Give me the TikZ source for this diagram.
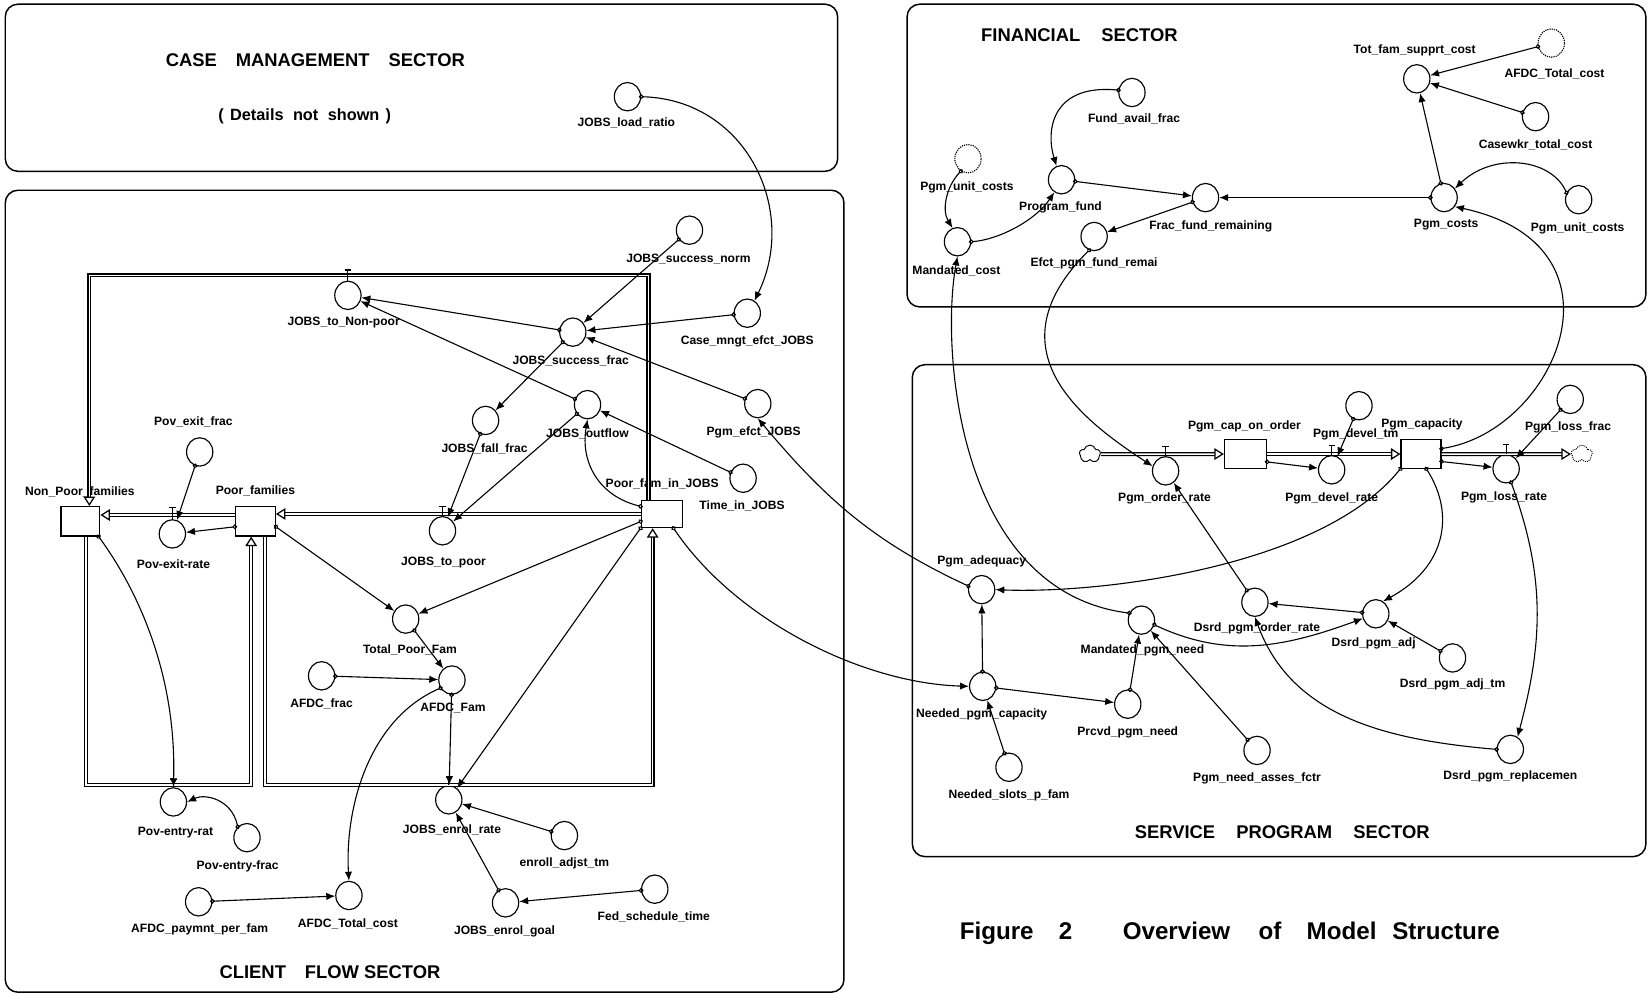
\documentclass[tikz,border=0pt]{standalone}
\usepackage{fontspec}
\setmainfont{Liberation Sans}
\usetikzlibrary{arrows.meta,shapes.geometric,shapes.symbols}
\begin{document}
\begin{tikzpicture}[x=1pt,y=-1pt,
  aux/.style={ellipse, draw, line width=1.1pt, minimum width=25pt, minimum height=27pt, inner sep=0pt},
  ghost/.style={aux, densely dotted},
  stock/.style={rectangle, draw, line width=1.1pt, minimum width=38pt, minimum height=27pt, inner sep=0pt},
  lab/.style={font=\bfseries\fontsize{11.5}{13}\selectfont, inner sep=0pt},
  ttl/.style={font=\bfseries\fontsize{17.5}{20}\selectfont, inner sep=0pt},
  conn/.style={line width=1.05pt, {Circle[open,length=4.5pt,width=4.5pt]}-{Latex[length=8.5pt,width=7pt]}, shorten <=-2.2pt},
  sector/.style={draw, line width=1.4pt, rounded corners=12pt},
  flow/.style={double, double distance=1.5pt, line width=1.2pt},
  flowtip/.style={flow, -{Triangle[open,length=9pt,width=11pt]}},
  valve/.style={line width=1.1pt},
  cloudy/.style={cloud, cloud puffs=5, draw, line width=0.9pt, minimum width=20pt, minimum height=17pt, inner sep=0pt}
]
\useasboundingbox (0,0) rectangle (1568,946);

% ---------------- sector boxes ----------------
\draw[sector] (5,4) rectangle (797,163);
\draw[sector] (5,181) rectangle (803,944);
\draw[sector] (863,4) rectangle (1566,292);
\draw[sector] (868,347) rectangle (1566,815);

% ---------------- titles ----------------
\node[ttl] (t-case) at (300,57) {CASE\hspace{18pt}MANAGEMENT\hspace{18pt}SECTOR};
\node[font=\bfseries\fontsize{15.5}{18}\selectfont, inner sep=0pt] (t-det) at (290,111) {(\hspace{6pt}Details\hspace{9pt}not\hspace{9pt}shown\hspace{6pt})};
\node[ttl] (t-fin) at (1027,33) {FINANCIAL\hspace{20pt}SECTOR};
\node[ttl] (t-srv) at (1220,792) {SERVICE\hspace{20pt}PROGRAM\hspace{20pt}SECTOR};
\node[ttl] (t-cli) at (314,925) {CLIENT\hspace{18pt}FLOW SECTOR};
\node[font=\bfseries\fontsize{23}{27}\selectfont, inner sep=0pt, anchor=west] (t-fig) at (913,888) {Figure\hspace{24pt}2\hspace{48pt}Overview\hspace{27pt}of\hspace{24pt}Model\hspace{15pt}Structure};

% ---------------- case management ----------------
\node[aux] (jlr) at (597,92) {};
\node[lab] (jlr-l) at (596,117) {JOBS\_load\_ratio};

% ---------------- client flow: nodes ----------------
\node[aux] (jsn) at (656,219) {};   \node[lab] (jsn-l) at (655,246) {JOBS\_success\_norm};
\node[aux] (cme) at (711,298) {};   \node[lab] (cme-l) at (711,325) {Case\_mngt\_efct\_JOBS};
\node[aux] (jtn) at (331,281) {};   \node[lab] (jtn-l) at (327,307) {JOBS\_to\_Non-poor};
\node[aux] (jsf) at (545,316) {};   \node[lab] (jsf-l) at (543,343) {JOBS\_success\_frac};
\node[aux] (jff) at (462,400) {};   \node[lab] (jff-l) at (461,427) {JOBS\_fall\_frac};
\node[aux] (jof) at (559,385) {};   \node[lab] (jof-l) at (559,413) {JOBS\_outflow};
\node[aux] (pej) at (721,384) {};   \node[lab] (pej-l) at (717,411) {Pgm\_efct\_JOBS};
\node[aux] (tij) at (707,455) {};   \node[lab] (tij-l) at (706,481) {Time\_in\_JOBS};
\node[stock, minimum width=39pt, minimum height=26pt] (pfj) at (629.5,489) {};
\node[lab] (pfj-l) at (630,460) {Poor\_fam\_in\_JOBS};
\node[aux] (pef) at (190,430) {};   \node[lab] (pef-l) at (184,401) {Pov\_exit\_frac};
\node[stock, minimum width=37pt, minimum height=28pt] (npf) at (76.5,496) {};
\node[lab] (npf-l) at (76,468) {Non\_Poor\_families};
\node[stock, minimum width=38pt, minimum height=28pt] (pf) at (243,496) {};
\node[lab] (pf-l) at (243,467) {Poor\_families};
\node[aux] (per) at (164,508) {};   \node[lab] (per-l) at (165,537) {Pov-exit-rate};
\node[aux] (jtp) at (421,505) {};   \node[lab] (jtp-l) at (422,535) {JOBS\_to\_poor};
\node[aux] (tpf) at (386,589) {};   \node[lab] (tpf-l) at (390,618) {Total\_Poor\_Fam};
\node[aux] (afr) at (306,643) {};   \node[lab] (afr-l) at (306,670) {AFDC\_frac};
\node[aux] (afam) at (430,647) {};  \node[lab] (afam-l) at (431,674) {AFDC\_Fam};
\node[aux] (pentr) at (165,763) {}; \node[lab] (pentr-l) at (167,792) {Pov-entry-rat};
\node[aux] (penf) at (235,797) {};  \node[lab] (penf-l) at (226,824) {Pov-entry-frac};
\node[aux] (jer) at (427,761) {};   \node[lab] (jer-l) at (430,790) {JOBS\_enrol\_rate};
\node[aux] (eat) at (537,795) {};   \node[lab] (eat-l) at (537,821) {enroll\_adjst\_tm};
\node[aux] (fst) at (623,846) {};   \node[lab] (fst-l) at (622,872) {Fed\_schedule\_time};
\node[aux] (jeg) at (481,859) {};   \node[lab] (jeg-l) at (480,886) {JOBS\_enrol\_goal};
\node[aux] (apf) at (189,858) {};   \node[lab] (apf-l) at (190,884) {AFDC\_paymnt\_per\_fam};
\node[aux] (atc) at (332,852) {};   \node[lab] (atc-l) at (331,879) {AFDC\_Total\_cost};

% ---------------- client flow: pipes ----------------
\coordinate (c1) at (617,262);
\coordinate (c2) at (85,262);
\draw[flowtip] (c1 |- pfj.north) -- (c1) -- (c2) -- (c2 |- npf.north);
\draw[flowtip] (pfj.west) -- (pfj.west -| pf.east);
\draw[flowtip] ([yshift=6pt]pf.west) -- ([yshift=6pt]pf.west -| npf.east);
\coordinate (b1) at (82,747);
\coordinate (b2) at (239,747);
\draw[flowtip] (b1 |- npf.south) -- (b1) -- (b2) -- (b2 |- pf.south);
\coordinate (b3) at (252,747);
\coordinate (b4) at (621,747);
\draw[flowtip] (b3 |- pf.south) -- (b3) -- (b4) -- (b4 |- pfj.south);
% valves
\draw[valve] (jtn.north) -- ++(0,-10) ++(-3,0) -- ++(6,0);
\draw[valve] (jtp.north) -- ++(0,-9) ++(-3,0) -- ++(6,0);
\draw[valve] (per.north) -- ++(0,-11) ++(-3,0) -- ++(6,0);
\draw[valve] (pentr.north) -- ++(0,-7) ++(-3,0) -- ++(6,0);
\draw[valve] (jer.north) -- ++(0,-7) ++(-3,0) -- ++(6,0);

% ---------------- client flow: connectors ----------------
\draw[conn] (jlr.east) .. controls (710,95) and (760,200) .. (cme.60);
\draw[conn] (jsn) -- (jsf);
\draw[conn] (cme) -- (jsf);
\draw[conn] (jsf) -- (jtn);
\draw[conn] (jsf) -- (jff);
\draw[conn] (pej) -- (jsf);
\draw[conn] (jof) -- (jtn);
\draw[conn] (jof) -- (jtp);
\draw[conn] (jff) -- (jtp);
\draw[conn] (tij) -- (jof);
\draw[conn] (pfj.160) .. controls (570,472) and (552,440) .. (jof.south);
\draw[conn] (pfj.200) -- (tpf);
\draw[conn] (pfj.south west) -- (jer);
\draw[conn] (pf.-15) -- (tpf);
\draw[conn] (pf.195) -- (per);
\draw[conn] (pef) -- (per);
\draw[conn] (npf.-40) .. controls (130,560) and (168,640) .. (pentr.north);
\draw[conn] (penf.130) .. controls (220,760) and (195,755) .. (pentr.east);
\draw[conn] (tpf) -- (afam);
\draw[conn] (afr) -- (afam);
\draw[conn] (afam.215) .. controls (350,685) and (328,770) .. (atc.north);
\draw[conn] (afam) -- (jer);
\draw[conn] (eat) -- (jer);
\draw[conn] (jeg) -- (jer);
\draw[conn] (fst) -- (jeg);
\draw[conn] (apf) -- (atc);

% ---------------- financial sector ----------------
\node[aux] (tfs) at (1348,75) {};    \node[lab] (tfs-l) at (1346,48) {Tot\_fam\_supprt\_cost};
\node[ghost] (atc2) at (1476,41) {}; \node[lab] (atc2-l) at (1479,70) {AFDC\_Total\_cost};
\node[aux] (cwk) at (1461,111) {};   \node[lab] (cwk-l) at (1461,138) {Casewkr\_total\_cost};
\node[aux] (faf) at (1077,88) {};    \node[lab] (faf-l) at (1079,113) {Fund\_avail\_frac};
\node[ghost] (puc1) at (921,151) {}; \node[lab] (puc1-l) at (920,178) {Pgm\_unit\_costs};
\node[aux] (prf) at (1010,171) {};   \node[lab] (prf-l) at (1009,197) {Program\_fund};
\node[aux] (ffr) at (1147,188) {};   \node[lab] (ffr-l) at (1152,215) {Frac\_fund\_remaining};
\node[aux] (pgc) at (1374,188) {};   \node[lab] (pgc-l) at (1376,214) {Pgm\_costs};
\node[aux] (puc2) at (1502,190) {};  \node[lab] (puc2-l) at (1501,217) {Pgm\_unit\_costs};
\node[aux] (mc) at (911,230) {};     \node[lab] (mc-l) at (910,258) {Mandated\_cost};
\node[aux] (epf) at (1041,225) {};   \node[lab] (epf-l) at (1041,251) {Efct\_pgm\_fund\_remai};

\draw[conn] (atc2) -- (tfs);
\draw[conn] (cwk) -- (tfs);
\draw[conn] (pgc) -- (tfs);
\draw[conn] (puc2.150) .. controls (1475,150) and (1420,145) .. (pgc.40);
\draw[conn] (pgc) -- (ffr);
\draw[conn] (prf) -- (ffr);
\draw[conn] (ffr) -- (epf);
\draw[conn] (faf.170) .. controls (1000,80) and (995,125) .. (prf.110);
\draw[conn] (puc1.240) .. controls (900,178) and (896,200) .. (mc.110);
\draw[conn] (mc.east) .. controls (950,228) and (985,210) .. (prf.240);

% ---------------- service program sector ----------------
\node[cloudy] (cl1) at (1037,432) {};
\node[cloudy, densely dotted] (cl2) at (1505,432) {};
\node[aux] (por) at (1109,448) {};   \node[lab] (por-l) at (1108,474) {Pgm\_order\_rate};
\node[stock, minimum width=40pt] (pco) at (1185,432) {};
\node[lab] (pco-l) at (1184,406) {Pgm\_cap\_on\_order};
\node[aux] (pdt) at (1293,386) {};   \node[lab] (pdt-l) at (1290,413) {Pgm\_devel\_tm};
\node[aux] (pdr) at (1267,447) {};   \node[lab] (pdr-l) at (1267,474) {Pgm\_devel\_rate};
\node[stock] (pcap) at (1352,432) {};
\node[lab] (pcap-l) at (1353,404) {Pgm\_capacity};
\node[aux] (plf) at (1494,380) {};   \node[lab] (plf-l) at (1492,407) {Pgm\_loss\_frac};
\node[aux] (plr) at (1433,446) {};   \node[lab] (plr-l) at (1431,473) {Pgm\_loss\_rate};
\node[aux] (pad) at (934,561) {};    \node[lab] (pad-l) at (934,534) {Pgm\_adequacy};
\node[aux] (dor) at (1194,573) {};   \node[lab] (dor-l) at (1196,598) {Dsrd\_pgm\_order\_rate};
\node[aux] (dadj) at (1309,584) {};  \node[lab] (dadj-l) at (1307,612) {Dsrd\_pgm\_adj};
\node[aux] (mpn) at (1086,590) {};   \node[lab] (mpn-l) at (1087,619) {Mandated\_pgm\_need};
\node[aux] (dat) at (1382,626) {};   \node[lab] (dat-l) at (1382,651) {Dsrd\_pgm\_adj\_tm};
\node[aux] (npc) at (935,653) {};    \node[lab] (npc-l) at (934,680) {Needed\_pgm\_capacity};
\node[aux] (ppn) at (1073,670) {};   \node[lab] (ppn-l) at (1073,697) {Prcvd\_pgm\_need};
\node[aux] (nsf) at (960,730) {};    \node[lab] (nsf-l) at (960,757) {Needed\_slots\_p\_fam};
\node[aux] (pna) at (1196,714) {};   \node[lab] (pna-l) at (1196,741) {Pgm\_need\_asses\_fctr};
\node[aux] (dpr) at (1437,713) {};   \node[lab] (dpr-l) at (1437,739) {Dsrd\_pgm\_replacemen};

% pipes
\draw[flowtip] (cl1.east) -- (pco.west);
\draw[flowtip] (pco.east) -- (pcap.west);
\draw[flowtip] (pcap.east) -- (cl2.west);
\draw[valve] (por.north) -- ++(0,-9) ++(-3,0) -- ++(6,0);
\draw[valve] (pdr.north) -- ++(0,-9) ++(-3,0) -- ++(6,0);
\draw[valve] (plr.north) -- ++(0,-9) ++(-3,0) -- ++(6,0);

% connectors
\draw[conn] (pdt) -- (pdr);
\draw[conn] (pco.-20) -- (pdr);
\draw[conn] (pcap.-20) -- (plr);
\draw[conn] (plf) -- (plr);
\draw[conn] (pcap.south west) .. controls (1257,539) and (1050,565) .. (pad.east);
\draw[conn] (pcap.-70) .. controls (1385,490) and (1375,540) .. (dadj.60);
\draw[conn] (dadj) -- (dor);
\draw[conn] (dat) -- (dadj);
\draw[conn] (mpn.-20) to[out=-25, in=200] (dadj.200);
\draw[conn] (dor) -- (por);
\draw[conn] (dpr.west) to[out=175, in=-70] (dor.south);
\draw[conn] (plr.-70) to[out=-70, in=75] (dpr.60);
\draw[conn] (npc) -- (pad);
\draw[conn] (npc) -- (ppn);
\draw[conn] (ppn) -- (mpn);
\draw[conn] (nsf) -- (npc);
\draw[conn] (pna) -- (mpn);

% cross-sector connectors
\draw[conn] (pfj.-50) .. controls (700,590) and (820,650) .. (npc.west);
\draw[conn] (pad.165) to[out=155, in=-50] (pej.south);
\draw[conn] (mpn.150) .. controls (910,562) and (895,330) .. (mc.south);
\draw[conn] (epf.250) .. controls (941,333) and (1030,400) .. (por.160);
\draw[conn] (pcap.15) .. controls (1480,410) and (1557,234) .. (pgc.-40);
\end{tikzpicture}
\end{document}
